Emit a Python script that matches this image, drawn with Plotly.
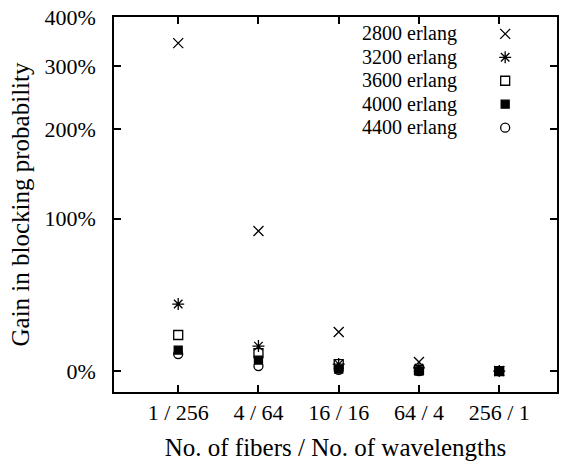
import plotly.graph_objects as go

categories = ["1 / 256", "4 / 64", "16 / 16", "64 / 4", "256 / 1"]
series_names = ["2800 erlang", "3200 erlang", "3600 erlang", "4000 erlang", "4400 erlang"]
gain_2800 = [344, 89, 19.4, 4.2, 0]
gain_3200 = [35.6, 12, 3.2, 1.4, 0]
gain_3600 = [17.8, 8.5, 3.2, 0.5, 0]
gain_4000 = [10, 5.1, 0.9, 0, 0]
gain_4400 = [8, 2.3, 0.5, 0, 0]
ytick_values = [0, 100, 200, 300, 400]
ytick_labels = ["0%", "100%", "200%", "300%", "400%"]

series = [gain_2800, gain_3200, gain_3600, gain_4000, gain_4400]
symbols = ["x-thin-open", "asterisk-open", "square-open", "square", "circle-open"]
sizes = [10, 10, 9, 8, 9]

FONT = "Liberation Serif"
xpos = list(range(1, len(categories) + 1))

fig = go.Figure()
for name, vals, sym, sz in zip(series_names, series, symbols, sizes):
    fig.add_trace(go.Scatter(
        x=xpos, y=[1 + v / 100 for v in vals], mode="markers", name=name,
        marker=dict(symbol=sym, size=sz, color="black", line=dict(color="black", width=1.3)),
        showlegend=False))

# custom gnuplot-style legend (text right-aligned, symbol to the right)
for i, (name, sym, sz) in enumerate(zip(series_names, symbols, sizes)):
    yy = 0.955 - i * 0.0625
    fig.add_trace(go.Scatter(
        x=[0.883], y=[yy], xaxis="x2", yaxis="y2", mode="markers",
        marker=dict(symbol=sym, size=sz, color="black", line=dict(color="black", width=1.3)),
        showlegend=False, hoverinfo="skip"))
    fig.add_annotation(x=0.777, y=yy, xref="paper", yref="paper", text=name,
                       showarrow=False, xanchor="right", yanchor="middle",
                       borderpad=0,
                       font=dict(family=FONT, size=20, color="black"))

# dotted zero line
fig.add_shape(type="line", xref="paper", yref="y", x0=0, x1=0.27, y0=0, y1=0,
              line=dict(color="black", width=1, dash="dot"))

fig.update_layout(
    width=566, height=461,
    margin=dict(l=114, r=9, t=17, b=69),
    paper_bgcolor="white", plot_bgcolor="white",
    font=dict(family=FONT, size=22, color="black"),
    xaxis=dict(range=[0.2, 5.72], tickvals=xpos, ticktext=categories,
               showline=True, mirror="ticks", linecolor="black", linewidth=1.5,
               ticks="inside", ticklen=7, tickwidth=1.5, tickcolor="black",
               showgrid=False, zeroline=False, automargin=False,
               tickfont=dict(family=FONT, size=22),
               title=dict(text="No. of fibers / No. of wavelengths", standoff=16,
                          font=dict(family=FONT, size=25))),
    yaxis=dict(type="log", range=[-0.0414, 0.699],
               tickvals=[1 + v / 100 for v in ytick_values], ticktext=ytick_labels,
               showline=True, mirror="ticks", linecolor="black", linewidth=1.5,
               ticks="inside", ticklen=7, tickwidth=1.5, tickcolor="black",
               showgrid=False, zeroline=False, ticklabelstandoff=12, automargin=False,
               tickfont=dict(family=FONT, size=22),
               title=dict(text="Gain in blocking probability", standoff=8,
                          font=dict(family=FONT, size=25))),
    xaxis2=dict(overlaying="x", range=[0, 1], visible=False),
    yaxis2=dict(overlaying="y", range=[0, 1], visible=False),
)

fig.write_html("out.html")
